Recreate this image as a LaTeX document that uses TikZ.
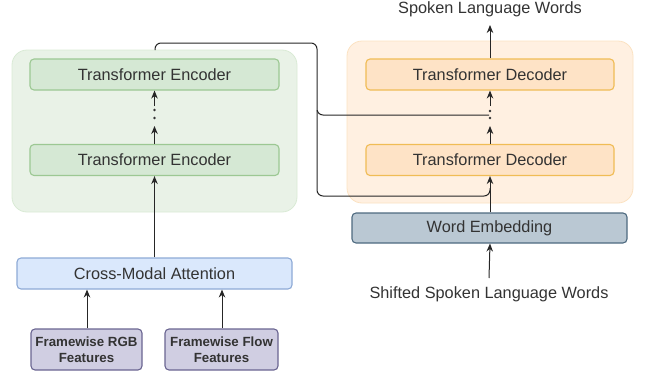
\documentclass[tikz,border=0pt]{standalone}
\usepackage{fontspec}
\setmainfont{Liberation Sans}
\usetikzlibrary{arrows.meta}
\definecolor{txt}{HTML}{333333}
\definecolor{gcfill}{HTML}{E9F2E7}
\definecolor{gcdraw}{HTML}{D9EAD5}
\definecolor{gbfill}{HTML}{D5E8D4}
\definecolor{gbdraw}{HTML}{9CC893}
\definecolor{ocfill}{HTML}{FFF0E1}
\definecolor{ocdraw}{HTML}{FBE2C2}
\definecolor{obfill}{HTML}{FEE3C6}
\definecolor{obdraw}{HTML}{F0BC55}
\definecolor{bfill}{HTML}{DAE8FC}
\definecolor{bdraw}{HTML}{8EAAD6}
\definecolor{pfill}{HTML}{D0CEE2}
\definecolor{pdraw}{HTML}{6A6591}
\definecolor{wfill}{HTML}{BAC8D3}
\definecolor{wdraw}{HTML}{4E6A80}
\tikzset{
  container/.style={rounded corners=15pt, line width=0.8pt},
  box/.style={rounded corners=4pt, line width=1.1pt, text=txt, font=\fontsize{16.3}{18}\selectfont, inner sep=0pt},
  encbox/.style={box, fill=gbfill, draw=gbdraw, minimum width=249pt, minimum height=31pt},
  decbox/.style={box, fill=obfill, draw=obdraw, minimum width=248pt, minimum height=31pt},
  featbox/.style={box, fill=pfill, draw=pdraw, minimum height=41pt, align=center, font=\bfseries\fontsize{13.3}{16}\selectfont},
  plain/.style={text=txt, font=\fontsize{16.3}{18}\selectfont, inner sep=0pt},
  arr/.style={-{Stealth[length=8pt,width=6.5pt]}, line width=1pt, draw=black!85},
  link/.style={line width=1pt, draw=black!85, rounded corners=6pt},
  dotm/.style={circle, fill=black!80, inner sep=0pt, minimum size=2.6pt}
}
\begin{document}
\begin{tikzpicture}[x=1pt,y=-1pt]
\useasboundingbox (0,0) rectangle (646,375);
% containers
\node[container, fill=gcfill, draw=gcdraw, minimum width=285pt, minimum height=162pt, inner sep=0pt] (enc) at (154.5,131) {};
\node[container, fill=ocfill, draw=ocdraw, minimum width=286pt, minimum height=162pt, inner sep=0pt] (dec) at (490,122) {};
% boxes
\node[encbox] (e2) at (154.5,74.5) {Transformer Encoder};
\node[encbox] (e1) at (154.5,160) {Transformer Encoder};
\node[decbox] (d2) at (490,74.5) {Transformer Decoder};
\node[decbox] (d1) at (490,160) {Transformer Decoder};
\node[box, fill=wfill, draw=wdraw, minimum width=275pt, minimum height=30pt] (we) at (489.5,228) {Word Embedding};
\node[box, fill=bfill, draw=bdraw, minimum width=275pt, minimum height=31pt] (cma) at (154.5,273.5) {Cross-Modal Attention};
\node[featbox, minimum width=111pt] (rgb) at (86.5,349.5) {Framewise RGB\\Features};
\node[featbox, minimum width=113pt] (flow) at (221.5,349.5) {Framewise Flow\\Features};
\node[plain] (out) at (490,9) {Spoken Language Words};
\node[plain] (inp) at (489,294) {Shifted Spoken Language Words};
% dots
\node[dotm] (ea) at (154.5,110) {};
\node[dotm] (eb) at (154.5,118) {};
\node[dotm] (da) at (490,111) {};
\node[dotm] (db) at (490,118) {};
\coordinate (eu) at (154.5,106);
\coordinate (du) at (490,106);
\coordinate (dm) at (489,115);
\coordinate (src) at (155,50);
\coordinate (join) at (490,188);
% arrows
\draw[arr] (rgb.north -| 87,0) -- (cma.south -| 87,0);
\draw[arr] (flow.north -| 222,0) -- (cma.south -| 222,0);
\draw[arr] (cma.north) -- (e1.south);
\draw[arr] (e1.north) -- (154.5,126);
\draw[arr] (eu) -- (e2.south);
\draw[arr] (inp.north |- 0,278) -- (we.south -| 490,0);
\draw[arr] (we.north -| 490,0) -- (d1.south);
\draw[arr] (d1.north) -- (490,126);
\draw[arr] (du) -- (d2.south);
\draw[arr] (d2.north) -- (out.south |- 0,25);
% links
\draw[link] (src) -- (155,43) -- (317,43) -- (317,115) -- (dm);
\draw[link] (317,110) -- (317,196) -- (490,196) -- (join);
\end{tikzpicture}
\end{document}
